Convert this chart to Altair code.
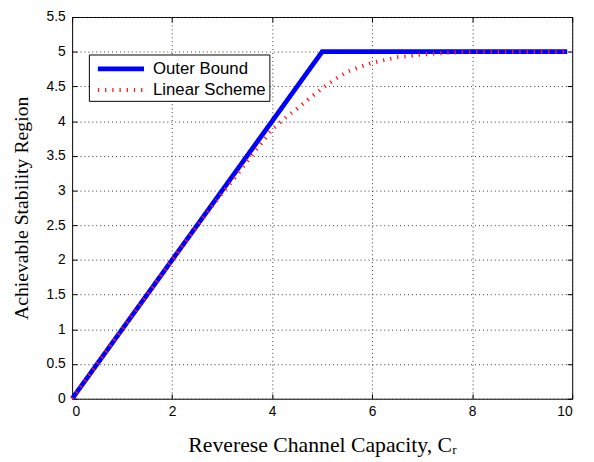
import altair as alt
import pandas as pd

series_names = ["Outer Bound", "Linear Scheme"]

outer_x = [0, 5, 9.9]
outer_y = [0, 5, 5]

linear_x = [0, 1, 2, 2.5, 3, 3.25, 3.5, 3.75, 4, 4.25, 4.5, 4.75, 5, 5.25, 5.5,
            5.75, 6, 6.5, 7, 7.5, 8, 8.5, 9, 9.9]
linear_y = [0, 1, 2, 2.49, 2.96, 3.18, 3.42, 3.65, 3.88, 4.04, 4.18, 4.33, 4.47,
            4.6, 4.71, 4.78, 4.84, 4.92, 4.96, 4.985, 4.995, 5, 5, 5]

x_ticks = [0, 2, 4, 6, 8, 10]
y_ticks = [0, 0.5, 1, 1.5, 2, 2.5, 3, 3.5, 4, 4.5, 5, 5.5]

df_outer = pd.DataFrame({"x": outer_x, "y": outer_y, "series": series_names[0]})
df_linear = pd.DataFrame({"x": linear_x, "y": linear_y, "series": series_names[1]})

W, H = 507, 387

xscale = alt.Scale(domain=[0, 10], nice=False, zero=False)
yscale = alt.Scale(domain=[0, 5.5], nice=False, zero=False)

label_font = "Liberation Sans"
title_font = "Liberation Serif"

leg = dict(title=None, orient="none", legendX=17, legendY=38,
           strokeColor="black", fillColor="white", padding=3,
           labelFont=label_font, labelFontSize=17, labelColor="black",
           symbolType="M-2.7,0H2.7", symbolSize=300, symbolOffset=18, labelOffset=21,
           rowPadding=0, cornerRadius=0)

color = alt.Color("series:N", scale=alt.Scale(domain=series_names, range=["#0000ff", "#ff1a1a"]),
                  legend=alt.Legend(**leg))
dash = alt.StrokeDash("series:N", scale=alt.Scale(domain=series_names, range=[[1, 0], [1.3, 6]]),
                      legend=alt.Legend(**leg))
swidth = alt.StrokeWidth("series:N", scale=alt.Scale(domain=series_names, range=[4.8, 4]),
                         legend=alt.Legend(**leg))

main = alt.Chart(df_outer).mark_line(strokeCap="butt", strokeJoin="miter").encode(
    x=alt.X("x:Q", scale=xscale, axis=alt.Axis(
        values=x_ticks, format="d", orient="bottom", offset=-5, tickSize=5, domain=False,
        grid=True, gridDash=[1, 3], gridColor="#333333", gridWidth=1,
        labelPadding=6, labelFont=label_font, labelFontSize=14, labelColor="black",
        tickColor="black",
        title="Reverese Channel Capacity, Cᵣ", titleFont=title_font, titleFontSize=22,
        titleFontWeight="normal", titleColor="black", titleBaseline="alphabetic", titleY=58)),
    y=alt.Y("y:Q", scale=yscale, axis=alt.Axis(
        values=y_ticks, format="~g", orient="left", offset=-5, tickSize=5, domain=False,
        grid=True, gridDash=[1, 3], gridColor="#333333", gridWidth=1,
        labelPadding=7, labelFont=label_font, labelFontSize=14, labelColor="black",
        tickColor="black",
        title="Achievable Stability Region", titleFont=title_font, titleFontSize=20,
        titleFontWeight="normal", titleColor="black", titleBaseline="alphabetic", titleX=-50)),
    color=color, strokeDash=dash, strokeWidth=swidth,
)

second = alt.Chart(df_linear).mark_line(strokeCap="butt").encode(
    x=alt.X("x:Q", scale=xscale, axis=alt.Axis(
        values=x_ticks, orient="top", offset=-5, tickSize=5, domain=False, grid=False,
        labels=False, title=None, tickColor="black")),
    y=alt.Y("y:Q", scale=yscale, axis=alt.Axis(
        values=y_ticks, orient="right", offset=-5, tickSize=5, domain=False, grid=False,
        labels=False, title=None, tickColor="black")),
    color=color, strokeDash=dash, strokeWidth=swidth,
)

chart = alt.layer(main, second).resolve_axis(x="independent", y="independent").properties(
    width=W, height=H,
    background="white",
    autosize=alt.AutoSizeParams(type="none"),
    padding={"left": 65, "top": 6, "right": 14, "bottom": 61},
).configure_view(
    stroke="black", strokeWidth=1
)

chart.save("out.html", embed_options={"renderer": "svg", "actions": False})
